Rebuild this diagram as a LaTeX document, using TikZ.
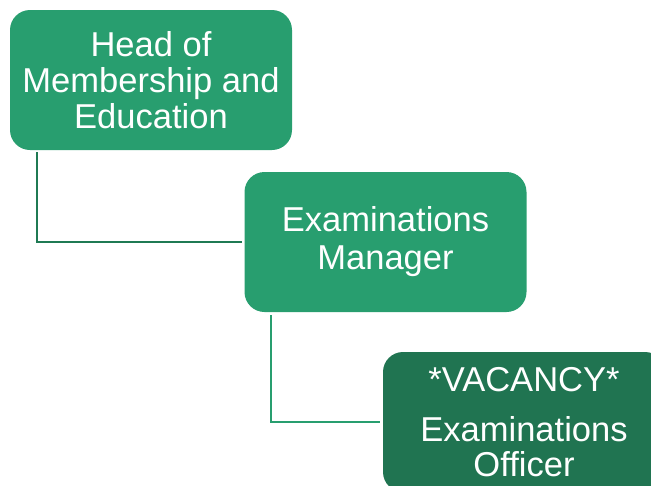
\documentclass[tikz,border=0pt]{standalone}
\usepackage{fontspec}
\setmainfont{Liberation Sans}
\definecolor{rolegreen}{HTML}{289E6F}
\definecolor{vacantgreen}{HTML}{207451}
\definecolor{linkgreen}{HTML}{1F7A53}
\begin{document}
\begin{tikzpicture}[x=0.75pt, y=-0.75pt,
    role/.style={rounded corners=15pt, fill=rolegreen, text=white, align=center,
      minimum width=211.5pt, minimum height=105pt, inner sep=0pt,
      font=\fontsize{25.9}{26.9}\selectfont},
    link/.style={line width=1.6pt}]
    \clip (0,0) rectangle (651,486);
    \useasboundingbox (0,0) rectangle (651,486);

    \node [role] (head) at (151,80) {Head of\\Membership and\\Education};
    \node [role, font=\fontsize{25.9}{28.5}\selectfont] (manager) at (385.5,242) {Examinations\\Manager};
    \node [role, fill=vacantgreen, font=\fontsize{25.9}{26.25}\selectfont] (officer) at (524,422) {*VACANCY*\\[11.25pt]Examinations\\Officer};

    \draw [link, draw=linkgreen] ([xshift=20.25pt, yshift=-1.5pt]head.south west) |- ([xshift=-1.5pt]manager.west);
    \draw [link, draw=rolegreen] ([xshift=20.25pt, yshift=-2.25pt]manager.south west) |- ([xshift=-2.25pt]officer.west);
\end{tikzpicture}
\end{document}
